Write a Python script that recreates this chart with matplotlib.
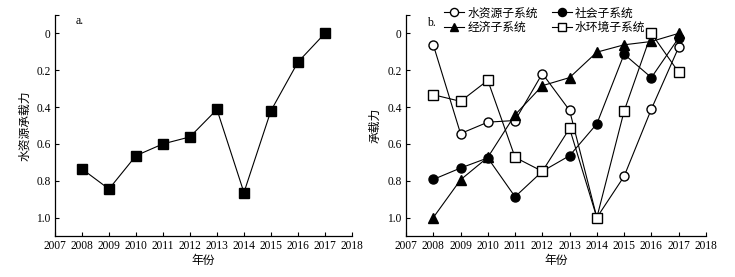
import numpy as np
import matplotlib
matplotlib.use("Agg")
import matplotlib.pyplot as plt

plt.rcParams['font.family'] = ['Liberation Serif', 'Noto Sans CJK SC']
plt.rcParams['font.size'] = 8
plt.rcParams['axes.unicode_minus'] = False

years = [2008, 2009, 2010, 2011, 2012, 2013, 2014, 2015, 2016, 2017]

# a. 水资源承载力
total = [0.736, 0.845, 0.664, 0.600, 0.562, 0.413, 0.864, 0.420, 0.156, 0.0]

# b. 子系统承载力
water = [0.062, 0.544, 0.482, 0.473, 0.218, 0.418, 1.0, 0.776, 0.411, 0.076]
social = [0.793, 0.731, 0.676, 0.887, 0.749, 0.664, 0.491, 0.113, 0.240, 0.025]
economy = [1.0, 0.795, 0.673, 0.442, 0.284, 0.240, 0.102, 0.062, 0.044, 0.0]
environment = [0.333, 0.369, 0.255, 0.673, 0.749, 0.516, 1.0, 0.422, 0.0, 0.211]

xticks = list(range(2007, 2019))
yticks = [-0.1, 0, 0.2, 0.4, 0.6, 0.8, 1.0]
ylabels = ['', '0', '0.2', '0.4', '0.6', '0.8', '1.0']

fig = plt.figure(figsize=(7.35, 2.77), dpi=100)
ax1 = fig.add_axes([0.0748, 0.148, 0.404, 0.798])
ax2 = fig.add_axes([0.5524, 0.148, 0.408, 0.798])


def style(ax):
    ax.set_xlim(2007, 2018)
    ax.set_ylim(1.1, -0.1)
    ax.set_xticks(xticks)
    ax.set_yticks(yticks)
    ax.set_yticklabels(ylabels)
    ax.spines['top'].set_visible(False)
    ax.spines['right'].set_visible(False)
    ax.spines['left'].set_linewidth(0.9)
    ax.spines['bottom'].set_linewidth(0.9)
    ax.tick_params(direction='in', length=3, width=0.8, labelsize=8.3, pad=3)
    ax.set_xlabel('年份', fontsize=8.5, labelpad=2)


ax1.plot(years, total, 'k-', marker='s', markersize=7, lw=0.8)
style(ax1)
ax1.set_ylabel('水资源承载力', fontsize=8.5, labelpad=4)
ax1.text(0.07, 1.0, 'a.', transform=ax1.transAxes, fontsize=8.5, va='top')

l1, = ax2.plot(years, water, 'k-', marker='o', markersize=6.5, mfc='white', lw=0.8, label='水资源子系统')
l2, = ax2.plot(years, social, 'k-', marker='o', markersize=6.5, lw=0.8, label='社会子系统')
l3, = ax2.plot(years, economy, 'k-', marker='^', markersize=6.5, lw=0.8, label='经济子系统')
l4, = ax2.plot(years, environment, 'k-', marker='s', markersize=6.5, mfc='white', lw=0.8, label='水环境子系统')
style(ax2)
ax2.set_ylabel('承载力', fontsize=8.5, labelpad=4)
ax2.text(0.07, 0.99, 'b.', transform=ax2.transAxes, fontsize=8.5, va='top')
ax2.legend(handles=[l1, l3, l2, l4], ncol=2, loc='center', bbox_to_anchor=(0.463, 0.975),
           frameon=False, fontsize=8.5, handlelength=1.7, handletextpad=0.25,
           columnspacing=1.2, labelspacing=0.2, borderpad=0, markerscale=0.9)

fig.savefig('out.png', dpi=100)
